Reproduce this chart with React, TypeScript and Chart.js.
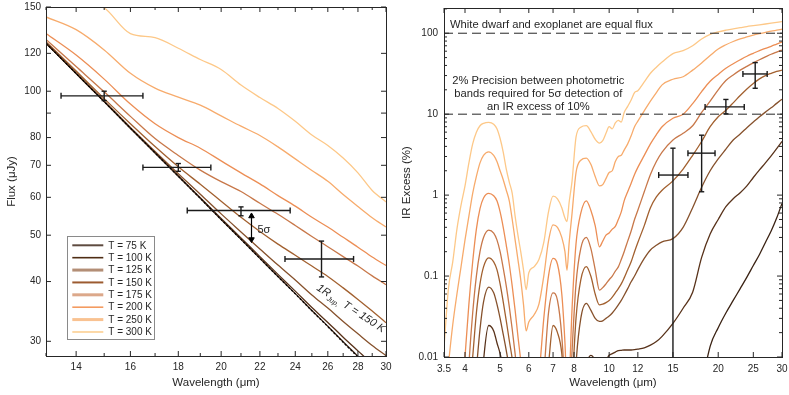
import React, { useEffect, useRef } from 'react';
import { Chart, registerables } from 'chart.js';
Chart.register(...registerables);

// ---------------- LEFT PANEL DATA ----------------
const lamL = [13, 14, 15, 16, 17, 18, 19, 20, 21, 22, 23, 24, 25, 26, 27, 28, 29, 30];
const fluxWD = [126, 108.9, 95.1, 83.7, 74.3, 66.4, 59.7, 53.9, 49.0, 44.7, 40.95, 37.7, 34.75, 32.2, 29.85, 27.8, 25.9, 24.3];
const fluxT75 = [126, 108.9, 95.1, 83.7, 74.3, 66.4, 59.7, 53.9, 49.0, 44.72, 40.98, 37.74, 34.8, 32.26, 29.93, 27.9, 26.03, 24.5];
const fluxT100 = [126, 108.9, 95.1, 83.7, 74.35, 66.5, 59.9, 54.2, 49.35, 45.1, 41.4, 38.2, 35.3, 32.85, 30.6, 28.65, 26.9, 25.4];
const fluxT125 = [126.3, 109.2, 95.4, 84.0, 74.8, 67.2, 60.9, 55.4, 50.8, 46.8, 43.3, 40.3, 37.5, 35.2, 33.0, 31.1, 29.4, 28.0];
const fluxT150 = [126.9, 110.2, 96.5, 85.5, 76.6, 69.5, 63.9, 58.9, 54.5, 50.9, 47.9, 45.4, 43.1, 41.0, 38.8, 36.7, 34.7, 32.8];
const fluxT175 = [128.3, 112.6, 99.7, 88.6, 79.6, 73.4, 68.4, 64.7, 61.7, 58.3, 55.3, 52.4, 49.7, 47.3, 45.1, 43.1, 41.1, 39.4];
const fluxT200 = [132, 119, 106, 94, 85.5, 80, 76, 71.5, 67.5, 64, 60.5, 57.5, 54.5, 52, 49.5, 47.2, 45, 43.2];
const fluxT250 = [143, 134.5, 122, 109, 101.5, 97.2, 93.5, 88.8, 84.5, 80.8, 76.5, 72.2, 68.3, 64.8, 60.8, 57.4, 54.4, 52];
const fluxT300 = [172, 158, 149.5, 132, 129.5, 123, 116.5, 111, 103, 97, 92, 86.5, 81, 77, 72.5, 67.5, 62, 58.7];

const xTicksL = [14, 16, 18, 20, 22, 24, 26, 28, 30];
const xMinorL = [13, 15, 17, 19, 21, 23, 25, 27, 29];
const yTicksL = [30, 40, 50, 60, 70, 80, 90, 100, 120, 150];
const yLabelsL = ['30', '40', '50', '60', '70', '80', '', '100', '120', '150'];

// error bars (left)
const errLx = [15.0, 18.0, 21.0, 25.6];
const errLy = [97.8, 69.3, 56.3, 44.6];
const errLxlo = [13.49, 16.5, 18.4, 23.4];
const errLxhi = [16.5, 19.5, 23.7, 27.7];
const errLylo = [95.6, 68.0, 54.9, 40.9];
const errLyhi = [100.0, 70.6, 57.3, 48.6];
// 5 sigma arrow
const arrowX = [21.55, 21.55];
const arrowY = [54.8, 49.0];

// ---------------- RIGHT PANEL DATA ----------------
const lamR = [3.5, 3.6, 3.7, 3.8, 3.9, 4.0, 4.1, 4.2, 4.3, 4.4, 4.5, 4.65, 4.8, 4.9, 5.0, 5.1, 5.2, 5.3, 5.4, 5.5, 5.6, 5.7, 5.8, 5.9, 6.0, 6.2, 6.4, 6.6, 6.8, 7.0, 7.2, 7.4, 7.55, 7.65, 7.75, 7.9, 8.1, 8.35, 8.65, 8.9, 9.15, 9.4, 9.6, 9.8, 10, 10.2, 10.4, 10.6, 10.8, 11, 11.25, 11.5, 11.75, 12, 12.5, 13, 13.5, 14, 15, 16, 17, 18, 19, 20, 21, 22, 23, 24, 25, 26, 27, 28, 29, 30];
const ex300 = [0.013, 0.07, 0.15, 0.38, 0.75, 1.3, 2.5, 4.3, 6.0, 7.2, 7.7, 7.9, 7.5, 6.6, 5.0, 3.4, 2.1, 1.45, 1.05, 0.55, 0.32, 0.2, 0.12, 0.068, 0.11, 0.13, 0.16, 0.26, 0.62, 0.97, 0.9, 0.7, 0.52, 0.47, 0.8, 1.5, 5.2, 6.9, 7.2, 6.1, 4.9, 4.4, 4.7, 5.8, 7.0, 6.6, 7.8, 8.4, 8.0, 10.5, 12.5, 15, 18.5, 19.5, 25, 32, 38, 44, 56, 61, 70, 85, 97, 104, 109, 113, 117, 121, 124, 127, 130, 133, 136, 139];
const ex250 = [0.002, 0.008, 0.025, 0.06, 0.13, 0.28, 0.55, 1.05, 1.7, 2.5, 3.1, 3.43, 3.1, 2.6, 2.0, 1.55, 1.15, 0.85, 0.5, 0.28, 0.16, 0.09, 0.045, 0.021, 0.027, 0.033, 0.045, 0.1, 0.27, 0.43, 0.4, 0.3, 0.2, 0.118, 0.25, 0.6, 1.9, 2.7, 2.86, 2.4, 1.7, 1.3, 1.35, 1.6, 1.9, 2.0, 2.6, 3.0, 3.1, 3.6, 4.3, 5.4, 7.0, 8.2, 11, 14.5, 18.5, 23, 27, 29, 35, 43, 53, 64, 72, 79, 85, 90, 95, 99, 102.5, 106, 109, 112];
const ex200 = [0.0001, 0.0001, 0.0001, 0.0001, 0.002, 0.01, 0.045, 0.15, 0.38, 0.68, 0.92, 1.05, 0.98, 0.85, 0.62, 0.4, 0.24, 0.14, 0.075, 0.038, 0.018, 0.009, 0.004, 0.002, 0.002, 0.003, 0.006, 0.03, 0.1, 0.165, 0.14, 0.06, 0.015, 0.004, 0.005, 0.04, 0.25, 0.6, 0.85, 0.65, 0.42, 0.23, 0.27, 0.32, 0.34, 0.38, 0.41, 0.5, 0.62, 0.85, 1.1, 1.4, 1.8, 2.2, 3.1, 4.3, 5.6, 7.0, 8.9, 10, 13.5, 19, 25.5, 31, 37, 42, 47, 52, 56.5, 61, 65, 69, 73.5, 78];
const ex175 = [0.0001, 0.0001, 0.0001, 0.0001, 0.0001, 0.001, 0.008, 0.035, 0.1, 0.2, 0.3, 0.37, 0.34, 0.28, 0.2, 0.125, 0.075, 0.042, 0.022, 0.011, 0.005, 0.002, 0.001, 0.0005, 0.0005, 0.0008, 0.0015, 0.006, 0.035, 0.062, 0.05, 0.018, 0.004, 0.001, 0.002, 0.012, 0.08, 0.22, 0.30, 0.22, 0.12, 0.067, 0.072, 0.08, 0.09, 0.1, 0.115, 0.13, 0.16, 0.2, 0.27, 0.36, 0.5, 0.65, 1.1, 1.8, 2.6, 3.4, 4.8, 5.8, 7.2, 10.5, 14.5, 20, 26, 30.5, 35, 39, 43, 47, 51, 55, 58.5, 62];
const ex150 = [0.0001, 0.0001, 0.0001, 0.0001, 0.0001, 0.0001, 0.003, 0.01, 0.035, 0.08, 0.13, 0.168, 0.15, 0.12, 0.08, 0.048, 0.028, 0.016, 0.0095, 0.005, 0.002, 0.001, 0.0005, 0.0003, 0.0003, 0.0003, 0.0005, 0.002, 0.008, 0.0245, 0.02, 0.011, 0.003, 0.0005, 0.0008, 0.004, 0.03, 0.09, 0.131, 0.1, 0.06, 0.044, 0.045, 0.047, 0.05, 0.055, 0.062, 0.07, 0.08, 0.095, 0.12, 0.15, 0.2, 0.26, 0.42, 0.7, 0.95, 1.15, 1.5, 2.1, 3.1, 4.6, 7.0, 9.3, 11.2, 13.8, 17, 20.5, 24, 27.3, 30, 32, 33.8, 35];
const ex125 = [0.0001, 0.0001, 0.0001, 0.0001, 0.0001, 0.0001, 0.0001, 0.002, 0.007, 0.022, 0.048, 0.073, 0.062, 0.045, 0.03, 0.019, 0.012, 0.007, 0.003, 0.001, 0.0005, 0.0003, 0.0002, 0.0001, 0.0001, 0.0001, 0.0002, 0.0008, 0.004, 0.0085, 0.007, 0.003, 0.0006, 0.0001, 0.0001, 0.0006, 0.008, 0.03, 0.046, 0.038, 0.03, 0.0275, 0.028, 0.03, 0.032, 0.035, 0.039, 0.044, 0.05, 0.058, 0.07, 0.085, 0.1, 0.12, 0.165, 0.21, 0.24, 0.265, 0.29, 0.4, 0.7, 1.25, 2.0, 2.8, 3.7, 4.8, 5.7, 6.8, 8.0, 9.3, 10.6, 12, 13.6, 15.3];
const ex100 = [0.0001, 0.0001, 0.0001, 0.0001, 0.0001, 0.0001, 0.0001, 0.0001, 0.0001, 0.002, 0.009, 0.0245, 0.021, 0.015, 0.011, 0.007, 0.003, 0.001, 0.0003, 0.0001, 0.0001, 0.0001, 0.0001, 0.0001, 0.0001, 0.0001, 0.0001, 0.0001, 0.0001, 0.003, 0.002, 0.0005, 0.0001, 0.0001, 0.0001, 0.0005, 0.002, 0.005, 0.0085, 0.0105, 0.009, 0.006, 0.0075, 0.009, 0.0105, 0.011, 0.0115, 0.012, 0.0121, 0.0122, 0.0122, 0.0122, 0.0123, 0.0125, 0.013, 0.014, 0.0155, 0.018, 0.026, 0.04, 0.063, 0.17, 0.33, 0.5, 0.72, 0.9, 1.07, 1.3, 1.65, 2.05, 2.5, 3.05, 3.75, 4.6];
const lamR75 = [17, 18, 19, 20, 21, 22, 23, 24, 25, 26, 27, 28, 29, 30];
const ex75 = [0.0005, 0.004, 0.0135, 0.023, 0.035, 0.05, 0.07, 0.097, 0.135, 0.185, 0.26, 0.36, 0.52, 0.79];

const xTicksR = [3.5, 4, 5, 6, 7, 8, 10, 12, 15, 20, 25, 30];
const yTicksR = [0.01, 0.1, 1, 10, 100];
const yLabelsR = ['0.01', '0.1', '1', '10', '100'];
const dashLevels = [100, 10];

// error bars (right)
const errRx = [15.0, 18.0, 21.0, 25.3];
const errRy = [1.77, 3.3, 12.3, 31.4];
const errRxlo = [13.7, 16.5, 18.4, 23.4];
const errRxhi = [16.5, 19.6, 23.6, 27.3];
const errRylo = [0.005, 1.1, 10.1, 20.9];
const errRyhi = [3.8, 5.5, 15.2, 43.4];

// ---------------- STYLE ----------------
const TXT = '#262626';
const FONT = "'Liberation Sans', Arial, Helvetica, sans-serif";
const tempNames = ['T = 75 K', 'T = 100 K', 'T = 125 K', 'T = 150 K', 'T = 175 K', 'T = 200 K', 'T = 250 K', 'T = 300 K'];
const tempColors = ['#3a2213', '#58321a', '#86512c', '#a2602f', '#c8784a', '#ec8e55', '#f7ab6c', '#fdc888'];
const legendColors = ['#5e4b40', '#4e2c14', '#b38e76', '#9c5b30', '#dca88a', '#f49b60', '#f9c291', '#fcd8a6'];
const legendWidths = [2, 1.6, 3, 2, 3, 1.6, 3, 2];

const pts = (xs: number[], ys: number[]) => xs.map((x, i) => ({ x, y: ys[i] }));

function errorBarSets(xc: number[], yc: number[], xlo: number[], xhi: number[], ylo: number[], yhi: number[]) {
  const out: any[] = [];
  for (let i = 0; i < xc.length; i++) {
    out.push({
      data: [{ x: xlo[i], y: yc[i] }, { x: xhi[i], y: yc[i] }],
      borderColor: '#1a1a1a', borderWidth: 1.4, pointStyle: 'line', pointRadius: 3,
      pointRotation: 90, pointBorderColor: '#1a1a1a', pointBorderWidth: 1.4,
    });
    out.push({
      data: [{ x: xc[i], y: ylo[i] }, { x: xc[i], y: yhi[i] }],
      borderColor: '#1a1a1a', borderWidth: 1.4, pointStyle: 'line', pointRadius: 2.6,
      pointRotation: 0, pointBorderColor: '#1a1a1a', pointBorderWidth: 1.4,
    });
  }
  return out;
}

function line(ctx: CanvasRenderingContext2D, x1: number, y1: number, x2: number, y2: number) {
  ctx.beginPath(); ctx.moveTo(x1, y1); ctx.lineTo(x2, y2); ctx.stroke();
}

function axisScales(opts: any) {
  const { xmin, xmax, ymin, ymax, xTicks, yTicks, yLabels, yWidth, xHeight, yPad, xPad, xTitle, yTitle } = opts;
  const grid = { display: false, drawTicks: false, tickLength: 0 };
  return {
    x: {
      type: 'logarithmic', min: xmin, max: xmax,
      afterBuildTicks: (s: any) => { s.ticks = xTicks.map((v: number) => ({ value: v })); },
      afterFit: (s: any) => { s.height = xHeight; s.paddingLeft = 0; s.paddingRight = 0; },
      ticks: { autoSkip: false, maxRotation: 0, minRotation: 0, padding: xPad, color: TXT, font: { family: FONT, size: 10 }, callback: (v: any) => String(v) },
      grid, border: { display: false },
      title: { display: true, text: xTitle, color: TXT, font: { family: FONT, size: 11.5 }, padding: { top: 0, bottom: 5 } },
    },
    y: {
      type: 'logarithmic', min: ymin, max: ymax,
      afterBuildTicks: (s: any) => { s.ticks = yTicks.map((v: number) => ({ value: v })); },
      afterFit: (s: any) => { s.width = yWidth; s.paddingTop = 0; s.paddingBottom = 0; },
      ticks: {
        autoSkip: false, padding: yPad, color: TXT, font: { family: FONT, size: 10 },
        callback: (v: any) => { const i = yTicks.indexOf(v); return i >= 0 ? yLabels[i] : ''; },
      },
      grid, border: { display: false },
      title: { display: true, text: yTitle, color: TXT, font: { family: FONT, size: 11.5 }, padding: { top: 5, bottom: 0 } },
    },
  };
}

const leftDecor = {
  id: 'leftDecor',
  afterDraw(chart: any) {
    const { ctx, chartArea: a, scales: { x, y } } = chart;
    ctx.save();
    ctx.strokeStyle = TXT; ctx.lineWidth = 1;
    ctx.strokeRect(Math.round(a.left) + 0.5, Math.round(a.top) + 0.5, Math.round(a.right - a.left), Math.round(a.bottom - a.top));
    for (const v of xTicksL) { const p = x.getPixelForValue(v); line(ctx, p, a.bottom, p, a.bottom - 5); line(ctx, p, a.top, p, a.top + 5); }
    for (const v of xMinorL) { const p = x.getPixelForValue(v); line(ctx, p, a.bottom, p, a.bottom - 3); line(ctx, p, a.top, p, a.top + 3); }
    for (const v of yTicksL) { const p = y.getPixelForValue(v); line(ctx, a.left, p, a.left + 5, p); line(ctx, a.right, p, a.right - 5, p); }

    // legend
    const lx = 67.5, ly = 236.5, lw = 87, lh = 103;
    ctx.fillStyle = '#fff'; ctx.fillRect(lx, ly, lw, lh);
    ctx.strokeStyle = '#8a8a8a'; ctx.lineWidth = 1; ctx.strokeRect(lx, ly, lw, lh);
    ctx.font = `10px ${FONT}`; ctx.textBaseline = 'middle'; ctx.textAlign = 'left';
    for (let i = 0; i < tempNames.length; i++) {
      const yy = 245.3 + i * 12.38;
      ctx.strokeStyle = legendColors[i]; ctx.lineWidth = legendWidths[i];
      line(ctx, 72.3, yy, 103.3, yy);
      ctx.fillStyle = TXT; ctx.fillText(tempNames[i], 108.3, yy + 0.5);
    }

    // 5 sigma label
    ctx.fillStyle = TXT; ctx.font = `11px ${FONT}`;
    ctx.fillText('5σ', 257.5, 229.5);

    // rotated label
    ctx.save();
    ctx.translate(316, 289.5);
    ctx.rotate(33 * Math.PI / 180);
    ctx.textBaseline = 'alphabetic';
    ctx.font = `italic 11px ${FONT}`;
    ctx.fillText('1R', 0, 0);
    let w = ctx.measureText('1R').width;
    ctx.font = `italic 7px ${FONT}`;
    ctx.fillText('Jup,', w, 3);
    w += ctx.measureText('Jup,').width + 4;
    ctx.font = `italic 11px ${FONT}`;
    ctx.fillText('T = 150 K', w, 0);
    ctx.restore();
    ctx.restore();
  },
};

const rightDecor = {
  id: 'rightDecor',
  afterDraw(chart: any) {
    const { ctx, chartArea: a, scales: { x, y } } = chart;
    ctx.save();
    ctx.strokeStyle = TXT; ctx.lineWidth = 1;
    ctx.strokeRect(Math.round(a.left) + 0.5, Math.round(a.top) + 0.5, Math.round(a.right - a.left), Math.round(a.bottom - a.top));
    for (const v of xTicksR) { const p = x.getPixelForValue(v); line(ctx, p, a.bottom, p, a.bottom - 5); line(ctx, p, a.top, p, a.top + 5); }
    for (const d of yTicksR) {
      for (let m = 1; m <= 9; m++) {
        const v = d * m; if (v > 205) continue;
        const p = y.getPixelForValue(v); const L = m === 1 ? 5 : 3;
        line(ctx, a.left, p, a.left + L, p); line(ctx, a.right, p, a.right - L, p);
      }
    }
    ctx.fillStyle = TXT; ctx.font = `11.2px ${FONT}`; ctx.textBaseline = 'middle';
    ctx.textAlign = 'left';
    ctx.fillText('White dwarf and exoplanet are equal flux', 55, 24.5);
    ctx.textAlign = 'center';
    ctx.fillText('2% Precision between photometric', 143.3, 80.5);
    ctx.fillText('bands required for 5σ detection of', 143.3, 93.5);
    ctx.fillText('an IR excess of 10%', 143.3, 107);
    ctx.restore();
  },
};

function leftConfig(): any {
  const curves = [fluxT75, fluxT100, fluxT125, fluxT150, fluxT175, fluxT200, fluxT250, fluxT300];
  const datasets: any[] = [
    ...errorBarSets(errLx, errLy, errLxlo, errLxhi, errLylo, errLyhi),
    {
      data: pts(arrowX, arrowY), borderColor: '#000', borderWidth: 1.2, pointStyle: 'triangle',
      pointRadius: 3.2, pointRotation: [0, 180], pointBackgroundColor: '#000', pointBorderColor: '#000', pointBorderWidth: 1,
    },
    { data: pts(lamL, fluxWD), borderColor: '#000', borderWidth: 1.2, borderDash: [2, 2], pointRadius: 0 },
    ...curves.map((c, i) => ({
      data: pts(lamL, c), borderColor: tempColors[i], borderWidth: 1.3, pointRadius: 0, cubicInterpolationMode: 'monotone',
    })),
  ];
  return {
    type: 'line',
    data: { datasets },
    options: {
      responsive: false, animation: false, devicePixelRatio: 1, events: [],
      layout: { padding: { top: 7, right: 9, left: 0, bottom: 0 } },
      plugins: { legend: { display: false }, tooltip: { enabled: false } },
      scales: axisScales({ xmin: 13, xmax: 30, ymin: 27.95, ymax: 150, xTicks: xTicksL, yTicks: yTicksL, yLabels: yLabelsL, yWidth: 46, xHeight: 39, yPad: 5, xPad: 5, xTitle: 'Wavelength (μm)', yTitle: 'Flux (μJy)' }),
    },
    plugins: [leftDecor],
  };
}

function rightConfig(): any {
  const curves = [ex100, ex125, ex150, ex175, ex200, ex250, ex300];
  const datasets: any[] = [
    ...errorBarSets(errRx, errRy, errRxlo, errRxhi, errRylo, errRyhi),
    ...dashLevels.map((lv) => ({
      data: [{ x: 3.5, y: lv }, { x: 30, y: lv }], borderColor: TXT, borderWidth: 1, borderDash: [9, 5], pointRadius: 0,
    })),
    { data: pts(lamR75, ex75), borderColor: tempColors[0], borderWidth: 1.3, pointRadius: 0, cubicInterpolationMode: 'monotone' },
    ...curves.map((c, i) => ({
      data: pts(lamR, c), borderColor: tempColors[i + 1], borderWidth: 1.3, pointRadius: 0, cubicInterpolationMode: 'monotone',
    })),
  ];
  return {
    type: 'line',
    data: { datasets },
    options: {
      responsive: false, animation: false, devicePixelRatio: 1, events: [],
      layout: { padding: { top: 8, right: 7, left: 0, bottom: 0 } },
      plugins: { legend: { display: false }, tooltip: { enabled: false } },
      scales: axisScales({ xmin: 3.5, xmax: 30, ymin: 0.01, ymax: 205, xTicks: xTicksR, yTicks: yTicksR, yLabels: yLabelsR, yWidth: 49, xHeight: 38, yPad: 6, xPad: 6, xTitle: 'Wavelength (μm)', yTitle: 'IR Excess (%)' }),
    },
    plugins: [rightDecor],
  };
}

export default function App() {
  const lRef = useRef<HTMLCanvasElement>(null);
  const rRef = useRef<HTMLCanvasElement>(null);
  useEffect(() => {
    const c1 = new Chart(lRef.current as HTMLCanvasElement, leftConfig());
    const c2 = new Chart(rRef.current as HTMLCanvasElement, rightConfig());
    return () => { c1.destroy(); c2.destroy(); };
  }, []);
  return (
    <div style={{ position: 'absolute', left: 0, top: 0, width: 789, height: 395, background: '#fff', display: 'flex' }}>
      <canvas ref={lRef} width={395} height={395} style={{ display: 'block', width: 395, height: 395 }} />
      <canvas ref={rRef} width={394} height={395} style={{ display: 'block', width: 394, height: 395 }} />
    </div>
  );
}
